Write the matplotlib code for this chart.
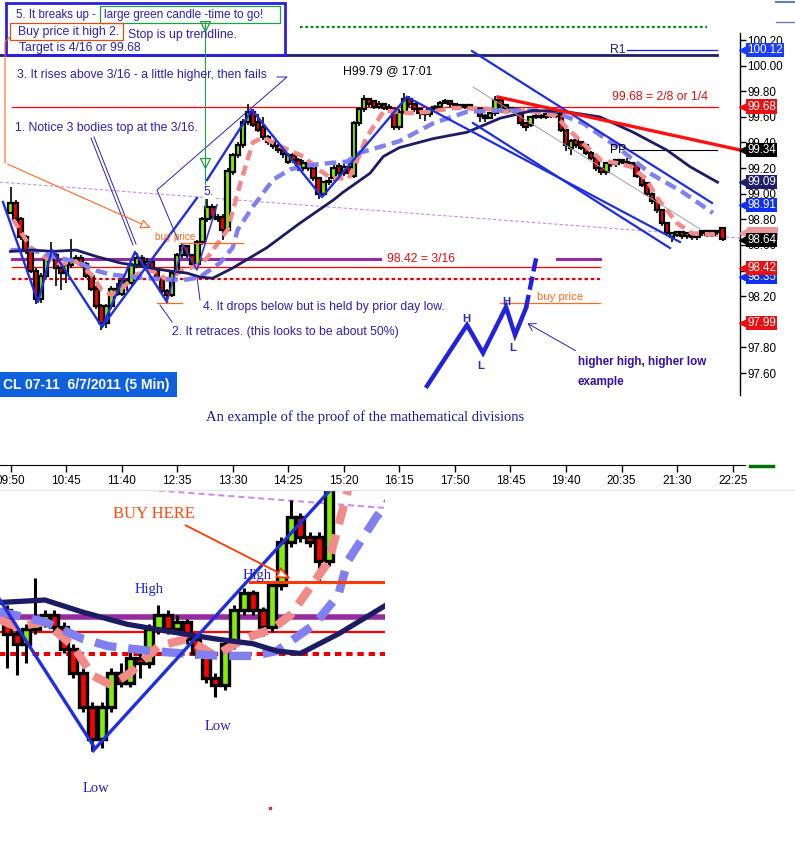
import matplotlib
matplotlib.use("Agg")
import matplotlib.pyplot as plt
import matplotlib.transforms as mtransforms
from matplotlib.patches import Rectangle
import numpy as np

plt.rcParams["font.family"] = ["Liberation Sans", "DejaVu Sans"]

W, H = 795, 842
TXT = "#2a22b4"
GREEN = "#80f000"
RED = "#ff0000"

# CL 07-11, 5 min bars, bar 0 = 09:50
opens = [
    98.85, 98.93, 98.80, 98.66, 98.55, 98.40, 98.18, 98.36, 98.50, 98.52,
    98.42, 98.38, 98.44, 98.47, 98.50, 98.45, 98.36, 98.26, 98.12, 97.99,
    98.12, 98.26, 98.22, 98.32, 98.30, 98.44, 98.50, 98.44, 98.47, 98.40,
    98.34, 98.24, 98.21, 98.38, 98.52, 98.59, 98.52, 98.45, 98.62, 98.80,
    98.90, 98.82, 98.82, 98.72, 99.17, 99.30, 99.38, 99.56, 99.64, 99.56,
    99.52, 99.44, 99.40, 99.37, 99.34, 99.25, 99.30, 99.26, 99.20, 99.24,
    99.20, 99.12, 99.00, 99.09, 99.12, 99.22, 99.16, 99.21, 99.14, 99.55,
    99.66, 99.74, 99.72, 99.68, 99.70, 99.68, 99.66, 99.52, 99.64, 99.74,
    99.70, 99.66, 99.63, 99.62, 99.66, 99.68, 99.71, 99.72, 99.70, 99.69,
    99.68, 99.69, 99.67, 99.66, 99.61, 99.59, 99.63, 99.73, 99.69, 99.67,
    99.66, 99.64, 99.55, 99.54, 99.60, 99.61, 99.60, 99.62, 99.61, 99.62,
    99.50, 99.36, 99.42, 99.40, 99.38, 99.32, 99.28, 99.20, 99.17, 99.24,
    99.23, 99.26, 99.25, 99.24, 99.23, 99.14, 99.08, 99.00, 98.95, 98.87,
    98.77, 98.66, 98.68, 98.70, 98.67, 98.68, 98.66, 98.69, 98.71, 98.68,
    98.71, 98.73]
closes = [
    98.93, 98.80, 98.66, 98.55, 98.40, 98.18, 98.36, 98.50, 98.52, 98.42,
    98.38, 98.44, 98.47, 98.50, 98.45, 98.36, 98.26, 98.12, 97.99, 98.12,
    98.26, 98.22, 98.32, 98.30, 98.44, 98.50, 98.44, 98.47, 98.40, 98.34,
    98.24, 98.21, 98.38, 98.52, 98.59, 98.52, 98.45, 98.62, 98.80, 98.90,
    98.82, 98.80, 98.72, 99.18, 99.30, 99.38, 99.56, 99.64, 99.54, 99.50,
    99.44, 99.40, 99.37, 99.34, 99.31, 99.30, 99.26, 99.21, 99.24, 99.20,
    99.12, 99.00, 99.09, 99.10, 99.20, 99.16, 99.21, 99.16, 99.55, 99.66,
    99.74, 99.70, 99.68, 99.70, 99.67, 99.66, 99.52, 99.64, 99.74, 99.70,
    99.66, 99.63, 99.62, 99.66, 99.68, 99.71, 99.72, 99.70, 99.69, 99.68,
    99.69, 99.67, 99.66, 99.61, 99.59, 99.63, 99.73, 99.69, 99.67, 99.66,
    99.64, 99.55, 99.52, 99.60, 99.61, 99.60, 99.62, 99.61, 99.62, 99.50,
    99.38, 99.41, 99.38, 99.36, 99.32, 99.28, 99.20, 99.17, 99.24, 99.23,
    99.26, 99.25, 99.24, 99.22, 99.14, 99.07, 99.00, 98.94, 98.87, 98.77,
    98.69, 98.69, 98.70, 98.67, 98.69, 98.66, 98.69, 98.71, 98.68, 98.71,
    98.70, 98.65]
highs = [
    99.05, 98.95, 98.82, 98.68, 98.57, 98.42, 98.38, 98.53, 98.62, 98.54,
    98.45, 98.46, 98.65, 98.52, 98.52, 98.47, 98.38, 98.28, 98.14, 98.14,
    98.28, 98.30, 98.36, 98.34, 98.46, 98.54, 98.52, 98.50, 98.48, 98.42,
    98.36, 98.26, 98.40, 98.54, 98.61, 98.60, 98.53, 98.64, 98.82, 98.97,
    98.92, 98.84, 98.84, 99.20, 99.32, 99.40, 99.58, 99.70, 99.66, 99.62,
    99.60, 99.46, 99.42, 99.39, 99.36, 99.32, 99.32, 99.28, 99.26, 99.26,
    99.22, 99.13, 99.10, 99.13, 99.25, 99.24, 99.23, 99.24, 99.57, 99.68,
    99.77, 99.75, 99.73, 99.72, 99.71, 99.70, 99.67, 99.66, 99.79, 99.76,
    99.71, 99.67, 99.65, 99.67, 99.69, 99.72, 99.74, 99.73, 99.71, 99.70,
    99.70, 99.70, 99.68, 99.67, 99.62, 99.64, 99.76, 99.74, 99.70, 99.68,
    99.67, 99.65, 99.56, 99.61, 99.63, 99.62, 99.63, 99.63, 99.63, 99.63,
    99.51, 99.43, 99.43, 99.41, 99.39, 99.33, 99.29, 99.21, 99.25, 99.25,
    99.27, 99.27, 99.28, 99.25, 99.24, 99.15, 99.09, 99.01, 98.96, 98.88,
    98.78, 98.70, 98.71, 98.71, 98.70, 98.69, 98.70, 98.72, 98.72, 98.72,
    98.72, 98.74]
lows = [
    98.84, 98.78, 98.64, 98.53, 98.38, 98.14, 98.15, 98.34, 98.48, 98.28,
    98.25, 98.30, 98.42, 98.45, 98.43, 98.34, 98.24, 98.10, 97.94, 97.95,
    98.10, 98.20, 98.20, 98.24, 98.28, 98.42, 98.42, 98.42, 98.38, 98.32,
    98.22, 98.16, 98.19, 98.36, 98.50, 98.50, 98.41, 98.43, 98.60, 98.78,
    98.80, 98.78, 98.64, 98.70, 99.15, 99.28, 99.36, 99.54, 99.52, 99.48,
    99.42, 99.38, 99.35, 99.32, 99.28, 99.23, 99.24, 99.18, 99.18, 99.18,
    99.10, 98.96, 98.98, 99.07, 99.10, 99.12, 99.14, 99.12, 99.12, 99.53,
    99.64, 99.68, 99.66, 99.66, 99.65, 99.64, 99.50, 99.50, 99.62, 99.68,
    99.64, 99.58, 99.57, 99.60, 99.65, 99.67, 99.70, 99.68, 99.67, 99.66,
    99.66, 99.65, 99.64, 99.56, 99.56, 99.58, 99.61, 99.67, 99.65, 99.64,
    99.62, 99.53, 99.49, 99.52, 99.58, 99.58, 99.58, 99.59, 99.59, 99.48,
    99.33, 99.30, 99.36, 99.34, 99.30, 99.26, 99.18, 99.15, 99.15, 99.21,
    99.21, 99.23, 99.22, 99.20, 99.12, 99.05, 98.98, 98.92, 98.85, 98.75,
    98.67, 98.62, 98.66, 98.65, 98.65, 98.64, 98.64, 98.67, 98.66, 98.66,
    98.68, 98.63]

# moving averages at these bars
fast_ma_x = [0.5, 4, 7, 10, 13, 16, 18, 20, 22, 25, 28, 31, 34, 37, 39, 43, 45.5, 48, 50, 54,
             58, 61, 63.5, 67, 69, 70.5, 74, 79, 83, 88, 95, 98, 102, 108, 110, 114, 117, 120,
             123, 126, 128, 132, 135, 140]
fast_ma = [98.80, 98.58, 98.50, 98.45, 98.47, 98.37, 98.25, 98.21, 98.26, 98.37, 98.40, 98.33,
           98.40, 98.44, 98.50, 98.72, 99.08, 99.40, 99.44, 99.36, 99.29, 99.19, 99.12, 99.12,
           99.29, 99.44, 99.65, 99.63, 99.64, 99.67, 99.66, 99.64, 99.65, 99.61, 99.52, 99.37,
           99.26, 99.24, 99.21, 99.11, 98.97, 98.77, 98.69, 98.68]
mid_ma_x = [0, 4.5, 8.4, 13, 17, 19.7, 24.3, 27.6, 31.6, 35, 37.5, 41.5, 44, 45, 48, 49, 52,
            55.4, 58.7, 63.3, 66.6, 69.2, 77, 83.7, 90.4, 97, 107, 113.4, 120, 126.6, 133.2, 139.1]
mid_ma = [98.56, 98.56, 98.51, 98.47, 98.40, 98.37, 98.35, 98.34, 98.33, 98.33, 98.35, 98.46,
          98.58, 98.72, 98.90, 98.95, 99.11, 99.19, 99.22, 99.24, 99.25, 99.32, 99.41, 99.55,
          99.64, 99.65, 99.65, 99.55, 99.37, 99.16, 99.01, 98.85]
slow_ma_x = [0, 4.5, 8.4, 13, 17, 21.7, 26.2, 31, 35, 37.5, 40, 44, 50.8, 57.3, 63.9, 65.8,
             71.2, 73.8, 77, 83.7, 90.4, 97, 103.5, 110, 116.7, 123.3, 130, 134.6, 140]
slow_ma = [98.55, 98.56, 98.55, 98.56, 98.51, 98.46, 98.43, 98.40, 98.38, 98.35, 98.34, 98.42,
           98.58, 98.77, 98.95, 99.01, 99.16, 99.29, 99.36, 99.43, 99.48, 99.59, 99.65, 99.64,
           99.60, 99.48, 99.34, 99.21, 99.09]

time_ticks = [0, 11, 22, 33, 44, 55, 66, 77, 88, 99, 110, 121, 132, 143]
time_labels = ["09:50", "10:45", "11:40", "12:35", "13:30", "14:25", "15:20",
               "16:15", "17:50", "18:45", "19:40", "20:35", "21:30", "22:25"]
price_ticks = [97.60, 97.80, 98.00, 98.20, 98.40, 98.60, 98.80, 99.00,
               99.20, 99.40, 99.60, 99.80, 100.00, 100.20]

# price tags on the right scale (drawn in this order)
tag_values = [100.12, 99.68, 99.34, 99.09, 98.91, 98.64, 98.35, 98.42, 97.99]
tag_colors = ["#1a3cff", "#e81010", "#000000", "#1e1e6a", "#1030f0",
              "#000000", "#1030f0", "#e81010", "#e81010"]
hidden_tag, hidden_tag_color = 98.69, "#e89a9a"

# levels and drawn lines (bar index, price)
green_level, green_span = 100.30, [57.3, 137.9]
r_level, r_span = 100.08, [-2.1, 139.9]
r1_level, r1_span = 100.12, [122.1, 139.9]
target_level, target_span = 99.68, [0.3, 140.1]
pp_level, pp_span = 99.34, [122.7, 139.9]
purple_level = 98.49
purple_spans = [[0.3, 73.2], [108.2, 116.7]]
level_316, span_316 = 98.428, [0.3, 116.7]
prior_low, prior_span = 98.338, [0.3, 116.7]
buy_level, buy_span = 98.615, [33.6, 46.0]
retrace_level, retrace_span = 98.147, [29.0, 34.0]
buy2_span = [96.9, 116.7]
buy_here_level, buy_here_span = 98.634, [34.7, 49.0]

swing_x = [-1.49, 5.45, 8.22, 18.12, 24.65, 30.99]
swing_p = [98.935, 98.155, 98.561, 97.960, 98.545, 98.155]
zig_x = [30.99, 34.16, 36.93, 40.89]
zig_p = [98.155, 98.600, 98.405, 98.912]
trend_x = [18.12, 36.93]
trend_p = [97.960, 98.967]
zoom_trend_x = [18.1, 43.1]
zoom_trend_p = [97.94, 99.01]
swing2_x = [38.91, 47.82, 61.68, 78.51]
swing2_p = [99.107, 99.654, 98.974, 99.755]
chan1_x, chan1_p = [78.51, 132.57], [99.755, 98.623]
chan2_x, chan2_p = [91.58, 130.59], [99.552, 98.576]
chan3_x, chan3_p = [91.39, 138.91], [100.114, 98.928]
mid_x, mid_p = [91.58, 136.53], [99.833, 98.725]
red_tl_x, red_tl_p = [96.53, 145.45], [99.755, 99.333]
lilac_x, lilac_p = [-2.08, 144.46], [99.091, 98.654]


def draw_candles(ax, width, edge_lw, wick_lw):
    o = np.array(opens)
    c = np.array(closes)
    idx = np.arange(len(o))
    cols = [GREEN if cc >= oo else RED for oo, cc in zip(o, c)]
    ax.vlines(idx, lows, highs, color="k", lw=wick_lw, zorder=2)
    ax.bar(idx, np.abs(c - o), width=width, bottom=np.minimum(o, c), color=cols,
           edgecolor="k", linewidth=edge_lw, zorder=2.2)


def draw_mas(ax, scale):
    ax.plot(fast_ma_x, fast_ma, color="#f28a8a", lw=3.2 * scale, dashes=(2.3, 1.3),
            dash_capstyle="butt", zorder=3)
    ax.plot(mid_ma_x, mid_ma, color="#8080ee", lw=3.2 * scale, dashes=(2.6, 1.4),
            dash_capstyle="butt", zorder=3)
    ax.plot(slow_ma_x, slow_ma, color="#1c1c64", lw=2.0 * scale, zorder=3.1)


def draw_levels(ax, scale):
    for a, b in purple_spans:
        ax.plot([a, b], [purple_level] * 2, color="#962aa0", lw=2.2 * scale, zorder=1.8)
    ax.plot(span_316, [level_316] * 2, color="#ff0000", lw=0.9 * scale, zorder=1.8)
    ax.plot(prior_span, [prior_low] * 2, color="#e80000", lw=1.6 * scale,
            dashes=(1.6, 1.2), zorder=1.8)
    ax.plot(lilac_x, lilac_p, color="#cc88ee", lw=0.8 * scale, dashes=(3, 2), zorder=1.7)


fig = plt.figure(figsize=(W / 100, H / 100), dpi=100)
fig.patch.set_facecolor("white")

# ---------------- main chart ----------------
ax = fig.add_axes([0, 1 - 395 / H, 740 / W, 395 / H])
ax.set_xlim(-2.08, 144.46)
ax.set_ylim(97.4288, 100.5123)
for s in ["top", "left", "bottom"]:
    ax.spines[s].set_visible(False)
ax.spines["right"].set_bounds(97.4288, 100.255)
ax.spines["right"].set_linewidth(1.0)
ax.yaxis.tick_right()
ax.set_yticks(price_ticks)
ax.set_yticklabels(["%.2f" % v for v in price_ticks])
ax.tick_params(axis="y", direction="out", length=4, width=1, pad=1.5, labelsize=8.4)
ax.set_xticks([])
ax.patch.set_alpha(0)

draw_levels(ax, 1.0)
ax.plot(green_span, [green_level] * 2, color="#008a00", lw=1.6, dashes=(1.2, 1.2))
ax.plot(r_span, [r_level] * 2, color="#1e1e6e", lw=2.0)
ax.plot(r1_span, [r1_level] * 2, color="#1a1aff", lw=0.9)
ax.plot(target_span, [target_level] * 2, color="#ff0000", lw=0.9)
ax.plot(pp_span, [pp_level] * 2, color="#000000", lw=0.8)
ax.plot(buy_span, [buy_level] * 2, color="#ff6a20", lw=0.9, zorder=4)
ax.plot(retrace_span, [retrace_level] * 2, color="#ff6a20", lw=0.9, zorder=4)
ax.plot(buy2_span, [retrace_level] * 2, color="#ff6a20", lw=0.9, zorder=4)

draw_candles(ax, 0.88, 1.6, 1.2)
draw_mas(ax, 1.0)

ax.plot(swing_x, swing_p, color="#1f2ee0", lw=1.7, zorder=4)
ax.plot(zig_x, zig_p, color="#4a34d0", lw=1.2, zorder=4)
ax.plot(trend_x, trend_p, color="#1f2ee0", lw=1.7, zorder=4)
ax.plot(swing2_x, swing2_p, color="#1f2ee0", lw=1.7, zorder=4)
for xs, ps in [(chan1_x, chan1_p), (chan2_x, chan2_p), (chan3_x, chan3_p)]:
    ax.plot(xs, ps, color="#1f2ee0", lw=1.6, zorder=4)
ax.plot(mid_x, mid_p, color="#a0a0a0", lw=0.7, zorder=4)
ax.plot(red_tl_x, red_tl_p, color="#ff1010", lw=2.4, zorder=4, clip_on=False)

trans = mtransforms.blended_transform_factory(ax.transAxes, ax.transData)
ax.add_patch(Rectangle((1.0095, hidden_tag - 0.05), 0.0425, 0.1, transform=trans,
                       fc=hidden_tag_color, ec="none", clip_on=False, zorder=9))
ax.plot([1.0058], [hidden_tag], marker="<", ms=6.5, color=hidden_tag_color,
        transform=trans, clip_on=False, zorder=9)
for v, c in zip(tag_values, tag_colors):
    ax.plot([1.0058], [v], marker="<", ms=6.5, color=c, transform=trans,
            clip_on=False, zorder=10)
    ax.text(1.0098, v, "%.2f" % v, transform=trans, color="white", fontsize=8.4,
            va="center", ha="left", clip_on=False, zorder=10,
            bbox=dict(boxstyle="square,pad=0.1", fc=c, ec="none"))

# ---------------- time axis ----------------
axt = fig.add_axes([0, 1 - 465 / H, 740 / W, 1e-4])
axt.set_xlim(ax.get_xlim())
for s in ["top", "left", "right"]:
    axt.spines[s].set_visible(False)
axt.spines["bottom"].set_bounds(-2.08, 145.4)
axt.set_yticks([])
axt.set_xticks(time_ticks)
axt.set_xticklabels(time_labels)
axt.tick_params(axis="x", direction="out", length=5, width=1, pad=2, labelsize=8.5)
axt.patch.set_alpha(0)

# ---------------- zoomed lower chart ----------------
ax2 = fig.add_axes([0, 1 - 800 / H, 385 / W, 310 / H])
ax2.set_xlim(8.25, 48.94)
ax2.set_ylim(97.737, 99.0126)
ax2.axis("off")
draw_levels(ax2, 1.8)
draw_candles(ax2, 0.85, 2.4, 2.2)
draw_mas(ax2, 1.9)
ax2.plot(swing_x[2:4], swing_p[2:4], color="#1f2ee0", lw=2.4, zorder=4)
ax2.plot(zoom_trend_x, zoom_trend_p, color="#1f2ee0", lw=2.4, zorder=4)
ax2.plot(buy_here_span, [buy_here_level] * 2, color="#ff3a00", lw=2.2, zorder=4)

# ---------------- annotations (pixel overlay) ----------------
ov = fig.add_axes([0, 0, 1, 1], zorder=20)
ov.set_xlim(0, W)
ov.set_ylim(H, 0)
ov.axis("off")
ov.patch.set_alpha(0)


def t(x, y, s, color=TXT, size=8.8, **kw):
    ov.text(x, y, s, color=color, fontsize=size, va="center", ha=kw.pop("ha", "left"), **kw)


ov.add_patch(Rectangle((6, 3), 279, 52, fill=False, ec="#2a20e0", lw=2.0))
ov.add_patch(Rectangle((100, 6), 180, 17, fill=False, ec="#20a040", lw=0.9))
ov.add_patch(Rectangle((10, 23), 113, 17, fill=False, ec="#e05010", lw=0.9))
t(16, 15, "5. It breaks up -", size=8.3)
t(104, 15, "large green candle -time to go!", size=8.5)
t(18, 32, "Buy price it high 2.")
t(128, 35, "Stop is up trendline.")
t(19, 48, "Target is 4/16 or 99.68")
t(17, 75, "3. It rises above 3/16 - a little higher, then fails")
t(15, 128, "1. Notice 3 bodies top at the 3/16.")
t(343, 71, "H99.79 @ 17:01", color="black")
t(612, 97, "99.68 = 2/8 or 1/4", color="#dd1111")
t(610, 50, "R1", color="#1e1e8a")
t(610, 150, "PP", color="black")
t(387, 259, "98.42 = 3/16", color="#dd1111")
t(155, 237, "buy price", color="#ff6a20", size=7.2)
t(537, 297, "buy price", color="#ff6a20", size=8.2)
t(203, 307, "4. It drops below but is held by prior day low.")
t(172, 332, "2. It retraces. (this looks to be about 50%)")
t(204, 192, "5.", bbox=dict(fc="white", ec="none", pad=0.8))

# pointer lines
ov.plot([277, 287, 157, 178], [77, 77, 190, 240], color=TXT, lw=0.7)
ov.plot([91, 133], [138, 245], color=TXT, lw=0.7)
ov.plot([94, 136], [137, 244], color=TXT, lw=0.7)
ov.plot([197, 200], [277, 300], color=TXT, lw=0.7)
ov.plot([160, 172], [305, 322], color=TXT, lw=0.7)
ov.plot([10, 5, 5], [37, 42, 163], color="#ff6a20", lw=0.8)
ov.annotate("", xy=(153, 229), xytext=(5, 163),
            arrowprops=dict(arrowstyle="-|>,head_length=0.6,head_width=0.3",
                            ec="#ff6a20", fc="white", lw=0.8))
ov.plot([205, 205], [22, 208], color="#20a040", lw=0.8)
ov.plot([205, 205], [26, 163], ls="none", marker="v", ms=7, mfc="none", mec="#20a040", mew=0.9)

# higher high / higher low example
ov.plot([427, 467, 483, 506, 515, 526], [386, 325, 353, 307, 335, 308], color="#2222dd", lw=3.2,
        solid_joinstyle="miter")
ov.plot([526, 537], [308, 254], color="#2222dd", lw=3.2, dashes=(3, 1.2))
for hx, hy, s in [(466, 319, "H"), (481, 366, "L"), (506, 302, "H"), (513, 348, "L")]:
    t(hx, hy, s, color="#2a2acc", size=8.2, weight="bold", ha="center")
t(578, 362, "higher high, higher low", color="#3311aa", size=8.4, weight="bold")
t(578, 382, "example", color="#3311aa", size=8.4, weight="bold")
ov.annotate("", xy=(525, 322), xytext=(578, 352),
            arrowprops=dict(arrowstyle="->,head_length=0.5,head_width=0.3", color=TXT, lw=0.7))

ov.add_patch(Rectangle((0, 372), 177, 25, fc="#0f60dc", ec="none"))
t(3, 385, "CL 07-11  6/7/2011 (5 Min)", color="white", size=10, weight="bold")
t(365, 417, "An example of the proof of the mathematical divisions", color="#1a1a9a",
  size=10.5, family="Liberation Serif", ha="center")

ov.plot([0, W], [490, 490], color="#e6e6e6", lw=1)
ov.plot([750, 773], [466, 466], color="#007000", lw=2.5)
ov.plot([776, 795], [2, 2], color="#6080a8", lw=1.5)
ov.plot([776, 795], [22, 22], color="#6080a8", lw=1.0)

# lower chart labels
serif = "Liberation Serif"
t(113, 514, "BUY HERE", color="#ff4a10", size=12, family=serif)
ov.annotate("", xy=(293, 580), xytext=(183, 524),
            arrowprops=dict(arrowstyle="-|>,head_length=0.8,head_width=0.35",
                            ec="#ff3a00", fc="white", lw=1.3))
t(135, 590, "High", color="#2020d0", size=10.5, family=serif)
t(243, 575, "High", color="#2020d0", size=10.5, family=serif)
t(205, 726, "Low", color="#2020d0", size=10.5, family=serif)
t(83, 789, "Low", color="#2020d0", size=10.5, family=serif)
ov.plot([270], [808], marker="s", ms=1.5, color="#e03030", ls="none")

fig.savefig("out.png", dpi=100, facecolor="white")
